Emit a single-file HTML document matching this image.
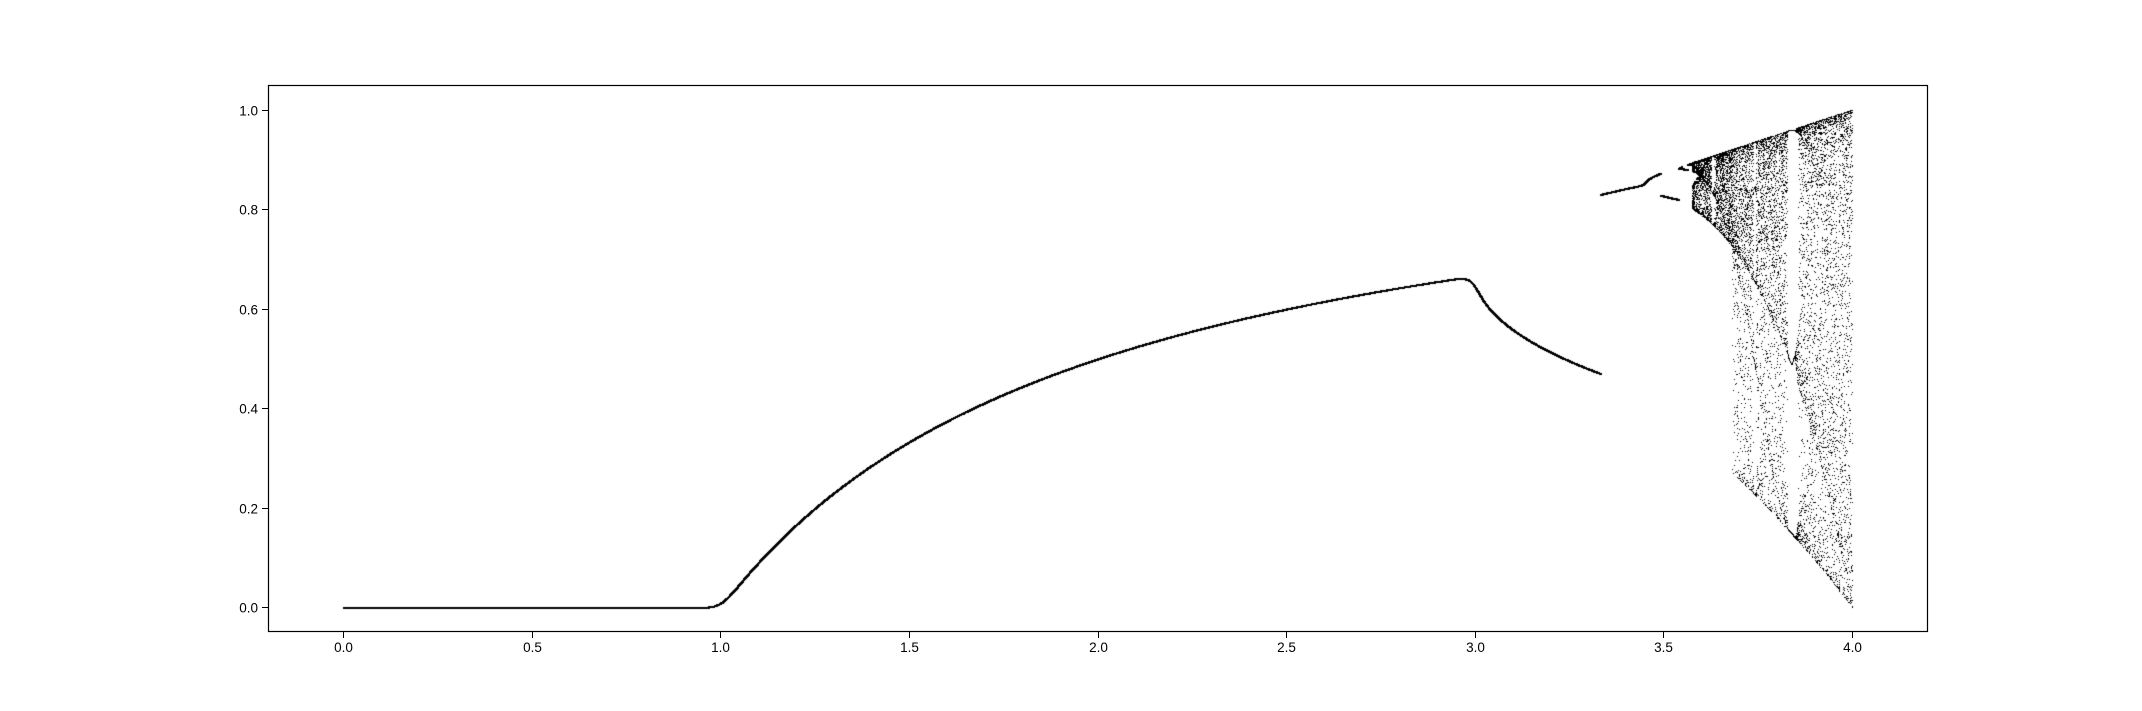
<!DOCTYPE html>
<html><head><meta charset="utf-8">
<style>
html,body{margin:0;padding:0;background:#fff;}
#wrap{position:relative;width:2142px;height:711px;overflow:hidden;}
canvas,svg{position:absolute;left:0;top:0;}
text{font-family:"Liberation Sans","DejaVu Sans",sans-serif;font-size:13.5px;fill:#000;}
</style></head>
<body>
<div id="wrap">
<canvas id="c" width="2142" height="711"></canvas>
<svg id="s" width="2142" height="711"></svg>
</div>
<script>
// Data definition (logistic map bifurcation)
const rMin = 0, rMax = 4, rCount = 10000;
const transientIters = [100];
const branchBounds = [3.0, 3.333, 3.449, 3.49, 3.575];
const branchRule = ['last', 'min', 'max', 'max', 'second', 'chaos'];
const chaosSamplesPerR = [10];
const xTicks = [0.0, 0.5, 1.0, 1.5, 2.0, 2.5, 3.0, 3.5, 4.0];
const yTicks = [0.0, 0.2, 0.4, 0.6, 0.8, 1.0];
const xTickLabels = ['0.0','0.5','1.0','1.5','2.0','2.5','3.0','3.5','4.0'];
const yTickLabels = ['0.0','0.2','0.4','0.6','0.8','1.0'];

const L = 268, R = 1928, T = 85, B = 632;
const xScale = v => 343.3 + v * (1852 - 343.3) / 4;
const yScale = v => 607 - v * (607 - 109.5);

const rs = [], xs = [], isChaos = [];
for (let i = 0; i < rCount; i++) {
  const r = rMin + (rMax - rMin) * i / (rCount - 1);
  let x = 0.5;
  for (let k = 0; k < transientIters[0]; k++) x = r * x * (1 - x);
  const orbit = [];
  for (let k = 0; k < 64; k++) { orbit.push(x); x = r * x * (1 - x); }
  let seg = 0; while (seg < branchBounds.length && r >= branchBounds[seg]) seg++;
  const rule = branchRule[seg];
  if (rule === 'chaos') {
    const off = orbit[0] < orbit[1] ? 1 : 0;
    for (let k = 0; k < chaosSamplesPerR[0]; k++) { rs.push(r); xs.push(orbit[off + 2 * k]); isChaos.push(true); }
    continue;
  }
  let v;
  if (rule === 'min') v = Math.min(...orbit);
  else if (rule === 'max') v = Math.max(...orbit);
  else if (rule === 'second') { const u = [...new Set(orbit.map(q => Math.round(q*1e4)/1e4))].sort((a,b)=>b-a); v = u.length > 1 ? u[1] : u[0]; }
  else v = orbit[0];
  rs.push(r); xs.push(v); isChaos.push(false);
}
const ctx = document.getElementById('c').getContext('2d');
ctx.fillStyle = '#000';
for (let i = 0; i < rs.length; i++) {
  if (!isFinite(xs[i])) continue;
  const s = isChaos[i] ? 1 : 2;
  ctx.fillRect(Math.round(xScale(rs[i])), Math.round(yScale(xs[i])), s, s);
}

const svg = document.getElementById('s');
const NS = 'http://www.w3.org/2000/svg';
function mk(tag, attrs) { const e = document.createElementNS(NS, tag); for (const k in attrs) e.setAttribute(k, attrs[k]); svg.appendChild(e); return e; }
const frame = mk('rect', {x: L + 0.5, y: T + 0.5, width: R - L - 1, height: B - T - 1, fill: 'none', stroke: '#000', 'stroke-width': 1.2});


xTicks.forEach((v, i) => {
  const x = Math.round(xScale(v)) + 0.5;
  const t = mk('line', {x1: x, x2: x, y1: B, y2: B + 6, stroke: '#000'});
  
  
  const lb = mk('text', {x: x, y: B + 20, 'text-anchor': 'middle'});
  lb.textContent = xTickLabels[i];
  
  
});
yTicks.forEach((v, i) => {
  const y = Math.round(yScale(v)) + 0.5;
  const t = mk('line', {x1: L - 6, x2: L, y1: y, y2: y, stroke: '#000'});
  
  
  const lb = mk('text', {x: L - 10, y: y + 5, 'text-anchor': 'end'});
  lb.textContent = yTickLabels[i];
  
  
});
</script>
</body></html>
